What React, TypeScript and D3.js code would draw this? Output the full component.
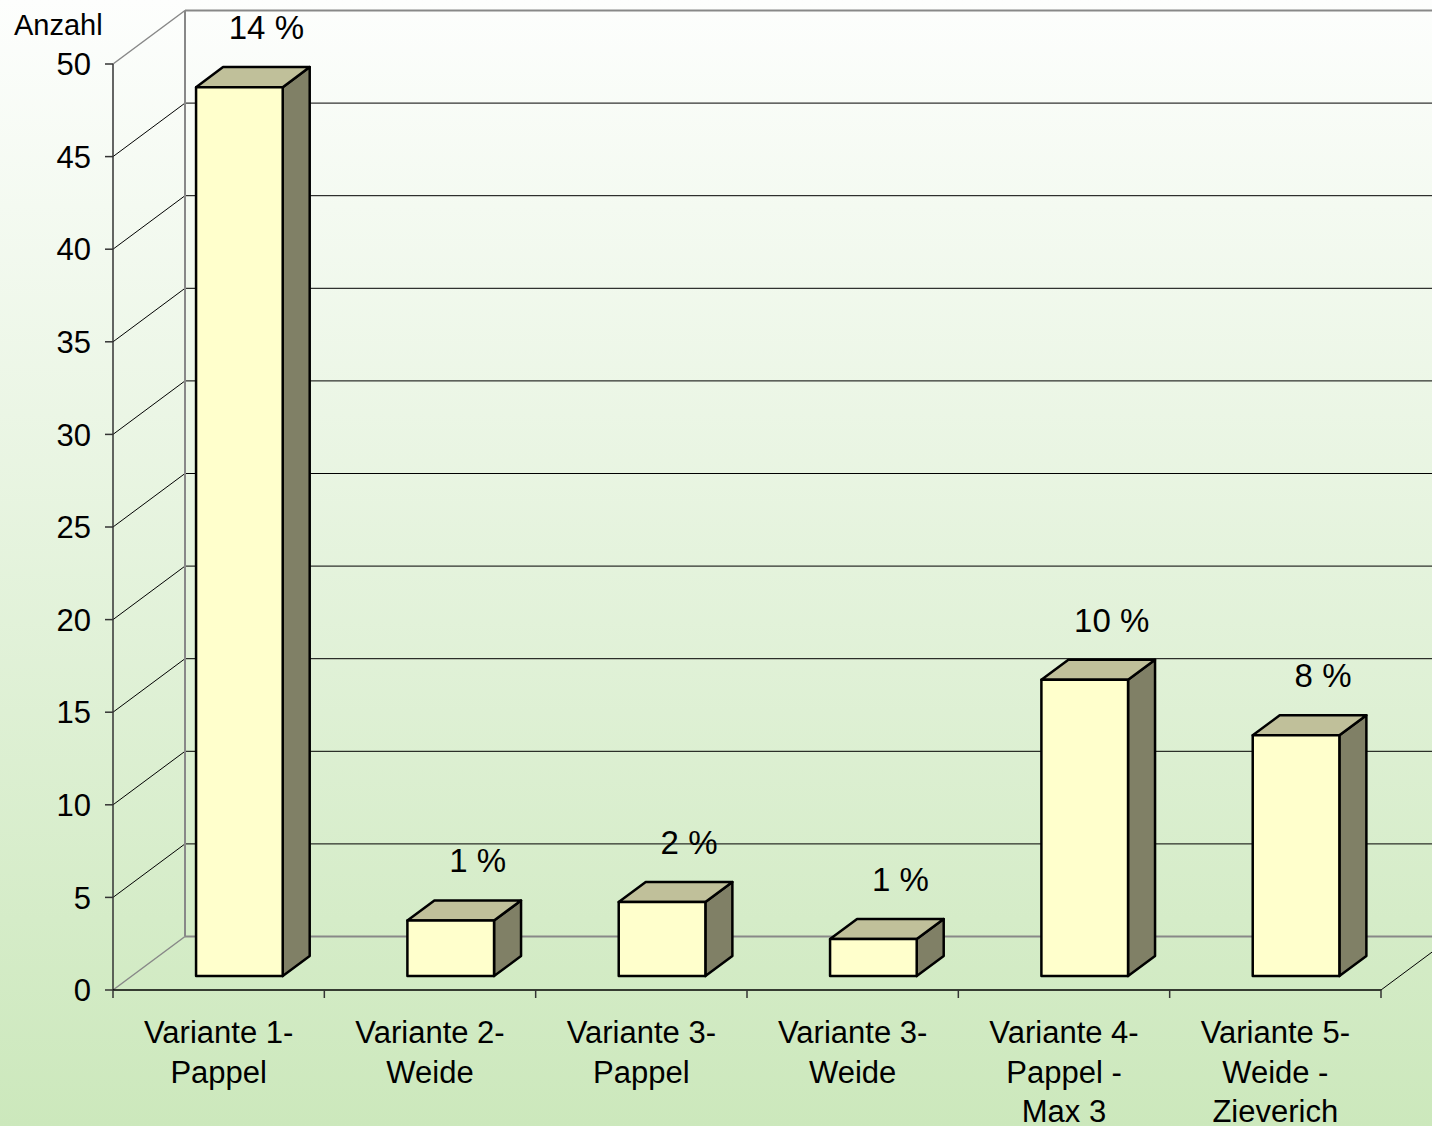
import * as d3 from 'd3';

const categories = [
  ['Variante 1-', 'Pappel'],
  ['Variante 2-', 'Weide'],
  ['Variante 3-', 'Pappel'],
  ['Variante 3-', 'Weide'],
  ['Variante 4-', 'Pappel -', 'Max 3'],
  ['Variante 5-', 'Weide -', 'Zieverich'],
];
const counts = [48, 3, 4, 2, 16, 13];
const percentLabels = ['14 %', '1 %', '2 %', '1 %', '10 %', '8 %'];
const yTicks = [0, 5, 10, 15, 20, 25, 30, 35, 40, 45, 50];

const W = 1432,
  H = 1126;
// depth of the 3d box
const DX = 72,
  DY = -53.5;
const font = '"Liberation Sans", Arial, sans-serif';

export default function App() {
  const x = d3
    .scaleBand<number>()
    .domain(d3.range(categories.length))
    .range([113, 1381])
    .padding(0);
  const y = d3.scaleLinear().domain([0, 50]).range([990, 64]);

  const bw = x.bandwidth() * 0.41;
  const z0 = 0.26,
    z1 = 0.635;
  const p = (px: number, py: number, z: number) => [px + DX * z, py + DY * z];
  const pts = (arr: number[][]) => arr.map((d) => d.join(',')).join(' ');

  const x0 = 113,
    x1 = 1381;

  return (
    <svg
      width={W}
      height={H}
      style={{ position: 'absolute', left: 0, top: 0 }}
      fontFamily={font}
    >
      <defs>
        <linearGradient id='bg' x1='0' y1='0' x2='0' y2='1'>
          <stop offset='0' stopColor='#fdfefd' />
          <stop offset='1' stopColor='#cce8bc' />
        </linearGradient>
      </defs>
      <rect width={W} height={H} fill='url(#bg)' />

      {/* back wall grid lines */}
      {yTicks.map((t) => {
        const gray = t === 0 || t === 50;
        return (
          <g key={'g' + t}>
            <line
              x1={x0 + DX}
              x2={x1 + DX}
              y1={y(t) + DY}
              y2={y(t) + DY}
              stroke={gray ? '#888' : '#000'}
              strokeWidth={gray ? 2 : 1}
            />
            <line
              x1={x0}
              x2={x0 + DX}
              y1={y(t)}
              y2={y(t) + DY}
              stroke={gray ? '#888' : '#000'}
              strokeWidth={gray ? 1.5 : 1}
            />
          </g>
        );
      })}
      {/* back wall left edge */}
      <line
        x1={x0 + DX}
        x2={x0 + DX}
        y1={y(0) + DY}
        y2={y(50) + DY}
        stroke='#888'
        strokeWidth={2}
      />
      {/* floor right edge */}
      <line
        x1={x1}
        x2={x1 + DX}
        y1={y(0)}
        y2={y(0) + DY}
        stroke='#000'
        strokeWidth={1}
      />

      {/* y axis */}
      <line x1={x0} x2={x0} y1={y(0)} y2={y(50)} stroke='#333' strokeWidth={1.5} />
      {yTicks.map((t) => (
        <g key={'t' + t}>
          <line x1={105} x2={x0} y1={y(t)} y2={y(t)} stroke='#333' strokeWidth={1.5} />
          <text x={91} y={y(t)} dy='0.36em' textAnchor='end' fontSize={31}>
            {t}
          </text>
        </g>
      ))}
      <text x={14} y={35} fontSize={29}>
        Anzahl
      </text>

      {/* x axis */}
      <line x1={x0} x2={x1} y1={y(0)} y2={y(0)} stroke='#000' strokeWidth={1.5} />
      {d3.range(categories.length + 1).map((i) => {
        const tx = i < categories.length ? x(i)! : x1;
        return (
          <line
            key={'xt' + i}
            x1={tx}
            x2={tx}
            y1={y(0)}
            y2={y(0) + 8}
            stroke='#333'
            strokeWidth={1.5}
          />
        );
      })}
      {categories.map((lines, i) => (
        <text
          key={'c' + i}
          x={x(i)! + x.bandwidth() / 2}
          y={1043}
          textAnchor='middle'
          fontSize={31}
        >
          {lines.map((l, j) => (
            <tspan key={j} x={x(i)! + x.bandwidth() / 2} dy={j === 0 ? 0 : 39.5}>
              {l}
            </tspan>
          ))}
        </text>
      ))}

      {/* bars */}
      {counts.map((v, i) => {
        const cx = x(i)! + x.bandwidth() / 2 + 2;
        const l = cx - bw / 2,
          r = cx + bw / 2;
        const top = y(v),
          bot = y(0);
        const fTL = p(l, top, z0),
          fTR = p(r, top, z0),
          fBR = p(r, bot, z0),
          fBL = p(l, bot, z0);
        const bTL = p(l, top, z1),
          bTR = p(r, top, z1),
          bBR = p(r, bot, z1);
        const backTopCenter = p(cx, top, z1);
        return (
          <g key={'b' + i} stroke='#000' strokeWidth={2.5} strokeLinejoin='round'>
            <polygon points={pts([fTR, bTR, bBR, fBR])} fill='#808066' />
            <polygon points={pts([fTL, bTL, bTR, fTR])} fill='#c0c09a' />
            <polygon points={pts([fTL, fTR, fBR, fBL])} fill='#ffffcc' />
            <text
              x={backTopCenter[0]}
              y={backTopCenter[1] - 28}
              textAnchor='middle'
              fontSize={33}
              stroke='none'
              fill='#000'
            >
              {percentLabels[i]}
            </text>
          </g>
        );
      })}
    </svg>
  );
}
